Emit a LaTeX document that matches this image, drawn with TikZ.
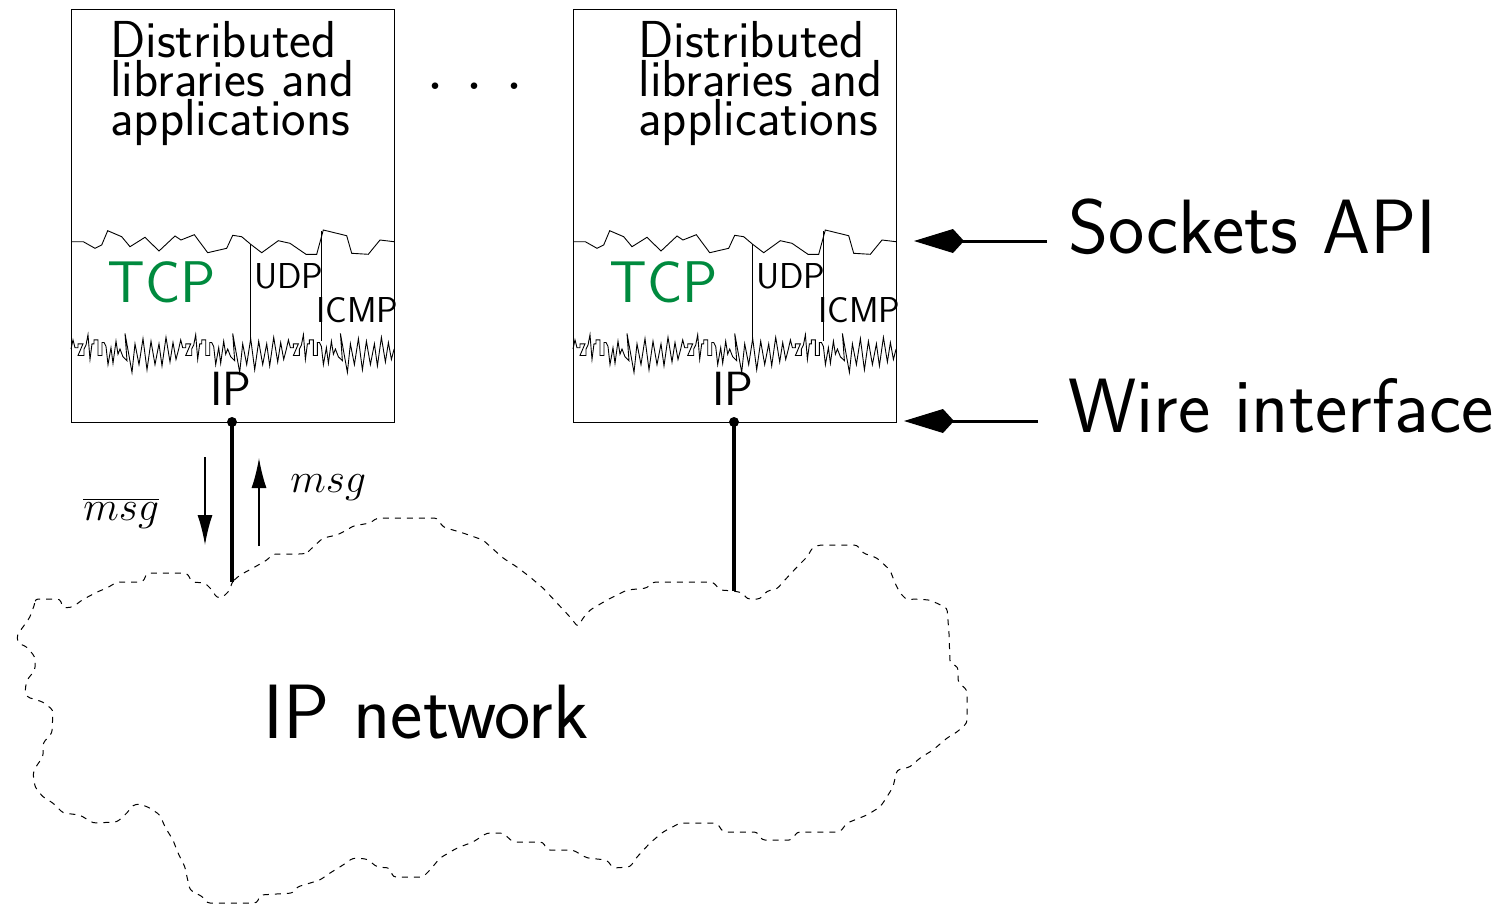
\documentclass[tikz,border=0pt]{standalone}
\usepackage{fontspec}
\usetikzlibrary{arrows.meta}
\definecolor{tcpgreen}{RGB}{0,138,62}
\tikzset{
  lbl/.style={inner sep=0pt, anchor=base west, font=\sffamily},
  frame/.style={line width=0.5pt},
  jag/.style={line width=0.45pt, line join=miter},
  wire/.style={line width=1.6pt},
  dotnode/.style={circle, fill=black, inner sep=0pt, minimum size=5pt},
  msgarrow/.style={line width=0.75pt, -{Latex[length=15pt,width=7.5pt]}},
  kitearrow/.style={line width=1.5pt, -{Kite[length=25pt,width=12pt,inset=5.5pt]}},
  cloudline/.style={line width=0.5pt, dash pattern=on 3pt off 3pt, rounded corners=1.5pt},
}
\newcommand{\lowerjag}{%
  (0,0)--(2,-7)--(4,-1)--(7,-1)--(7,-4)--(12,-4)--(7,5)--(13,5)--(13,0)--
  (15,-3)--(17,-11)--(19,8)--(21,-4)--(23,-4)--(23,-7)--(27,-7)--(27,5)--(31,5)--(31,-5)--(33,-5)--
  (35,-2)--(37,12)--(40,-1)--(42,11)--(45,-6)--(47,4)--(49,0)--
  (52,6)--(56,9)--(54,-12)--(61,18)--(64,-4)--
  (68,12)--(72,-8)--(76,16)--(80,-6)--(84,12)--(88,-4)--(91,13)--(95,-9)--(99,10)--(102,-5)--(105,8)--(107.7,0)}
% #1 = x shift of box, #2 = name prefix, #3 = extra shift of top text
\newcommand{\hostbox}[3]{%
  \begin{scope}[shift={(#1,0)}]
    \draw[frame] (71,241.7) -- (71,9) -- (394,9) -- (394,241.7);
    \draw[frame] (71,241.7) -- (71,422) -- (394,422) -- (394,241.7);
    \draw[jag] (71,241.7) -- (83.3,241.7) -- (95,248.3) -- (101.7,245) -- (107.7,230.7) -- (121.7,236.7)
      -- (130,246.7) -- (145,237.3) -- (159,251) -- (175,236) -- (181,240) -- (194.3,234.7)
      -- (207.7,252.7) -- (226.7,248.3) -- (232.7,235.3) -- (241.7,236.7) -- (250.7,244.3)
      -- (261.7,252.7) -- (278.3,240.7) -- (290,243.3) -- (306,254.3) -- (316.7,254.3)
      -- (323.3,230) -- (346.7,235.7) -- (351.7,253.3) -- (368.3,254.3) -- (380,240) -- (394,241.7);
    \draw[frame] (250.7,244.3) -- (250.7,341);
    \draw[frame] (321,231) -- (321,341);
    \foreach \s in {0,107.7,215.4}{
      \draw[jag, shift={(71+\s,349)}, yscale=1.3] \lowerjag;
    }
    \node[lbl, align=left, font=\sffamily\fontsize{26}{18.25}\selectfont] (#2-app) at (110+#3,135)
      {Distributed\\libraries and\\applications};
    \node[lbl, text=tcpgreen, font=\sffamily\fontsize{29.4}{29.4}\selectfont] (#2-tcp) at (107,302) {TCP};
    \node[lbl, font=\sffamily\fontsize{18}{18}\selectfont] (#2-udp) at (254,288) {UDP};
    \node[lbl, font=\sffamily\fontsize{18}{18}\selectfont] (#2-icmp) at (316,322) {ICMP};
    \node[lbl, font=\sffamily\fontsize{24}{24}\selectfont] (#2-ip) at (210,405) {IP};
  \end{scope}}

\begin{document}
\begin{tikzpicture}[x=0.5pt,y=-0.5pt]
\useasboundingbox (0,0) rectangle (1511,906);

\hostbox{0}{hA}{0}
\hostbox{502}{hB}{26}

\node[font=\rmfamily\fontsize{40}{40}\selectfont, inner sep=0pt, anchor=base] (dots) at (475,89.5)
  {.\hspace{9.9pt}.\hspace{9.9pt}.};

% wires
\node[dotnode] (wA) at (232,422) {};
\node[dotnode] (wB) at (734,422) {};
\coordinate (cA) at (232,582);
\coordinate (cB) at (734,591);
\draw[wire] (wA.center) -- (cA);
\draw[wire] (wB.center) -- (cB);

% msg arrows
\coordinate (dnS) at (205,457);
\coordinate (dnE) at (205,545);
\coordinate (upS) at (259,546);
\coordinate (upE) at (259,458);
\draw[msgarrow] (dnS) -- (dnE);
\draw[msgarrow] (upS) -- (upE);
\node[lbl, font=\fontsize{20.5}{20.5}\selectfont] (msg) at (290,492) {$msg$};
\node[lbl, font=\fontsize{20.5}{20.5}\selectfont] (nmsg) at (83,520) {$\overline{msg}$};

% right labels
\node[lbl, font=\sffamily\fontsize{38.5}{38.5}\selectfont] (sock) at (1068,253) {Sockets API};
\node[lbl, font=\sffamily\fontsize{38.5}{38.5}\selectfont] (wirei) at (1068,432) {Wire interface};
\coordinate (sockS) at (1047,241);
\coordinate (sockT) at (914,241);
\coordinate (wireS) at (1038,421);
\coordinate (wireT) at (904,421);
\draw[kitearrow] (sockS) -- (sockT);
\draw[kitearrow] (wireS) -- (wireT);

% cloud
\draw[cloudline] (232,582) -- (240,575) -- (253,568) -- (267,560) -- (273,554) -- (302,554) -- (307,553)
 -- (313,547) -- (323,538) -- (337,535) -- (347,530) -- (353,526) -- (370,523) -- (377,518) -- (437,518)
 -- (443,527) -- (463,533) -- (483,540) -- (503,558) -- (517,567) -- (530,577) -- (543,588) -- (557,603)
 -- (570,617) -- (578,627) -- (583,618) -- (590,610) -- (607,600) -- (627,590) -- (647,588) -- (653,582)
 -- (713,582) -- (720,590) -- (734,591) -- (743,593) -- (747,599) -- (760,599) -- (767,591) -- (777,589)
 -- (783,582) -- (797,567) -- (807,557) -- (813,547) -- (820,545) -- (857,545) -- (863,553) -- (877,558)
 -- (890,570) -- (895,583) -- (900,593) -- (907,600) -- (913,599) -- (930,600) -- (947,608) -- (949,633)
 -- (950,663) -- (958,667) -- (958,682) -- (967,690) -- (967,723) -- (957,732) -- (947,738) -- (933,750)
 -- (920,758) -- (910,767) -- (897,770) -- (893,787) -- (885,800) -- (880,807) -- (867,815) -- (847,823)
 -- (840,832) -- (797,832) -- (792,840) -- (762,840) -- (757,832) -- (723,832) -- (717,823) -- (680,823)
 -- (663,832) -- (650,843) -- (637,857) -- (630,867) -- (613,868) -- (607,860) -- (587,858) -- (573,850)
 -- (547,850) -- (543,842) -- (513,842) -- (503,833) -- (487,833) -- (473,842) -- (457,848) -- (440,858)
 -- (430,870) -- (423,877) -- (393,877) -- (390,868) -- (377,867) -- (367,859) -- (353,858) -- (343,865)
 -- (330,873) -- (320,880) -- (297,887) -- (293,893) -- (260,895) -- (257,903) -- (207,903) -- (203,897)
 -- (190,890) -- (187,877) -- (185,867) -- (178,853) -- (173,840) -- (165,827) -- (160,815) -- (150,808)
 -- (140,804) -- (133,805) -- (127,813) -- (117,822) -- (93,823) -- (80,815) -- (63,813) -- (53,803)
 -- (43,797) -- (35,787) -- (33,773) -- (37,765) -- (43,757) -- (43,743) -- (52,733) -- (53,710)
 -- (43,702) -- (27,697) -- (25,690) -- (27,680) -- (35,670) -- (35,657) -- (27,647) -- (18,643)
 -- (17,635) -- (23,627) -- (30,617) -- (35,603) -- (35,599) -- (60,599) -- (63,608) -- (73,607)
 -- (82,600) -- (97,592) -- (107,588) -- (117,582) -- (143,582) -- (147,573) -- (187,573) -- (192,582)
 -- (205,583) -- (212,590) -- (217,598) -- (223,597) -- (230,590) -- cycle;
\node[lbl, font=\sffamily\fontsize{38.5}{38.5}\selectfont] (net) at (263,738) {IP network};
\end{tikzpicture}
\end{document}
